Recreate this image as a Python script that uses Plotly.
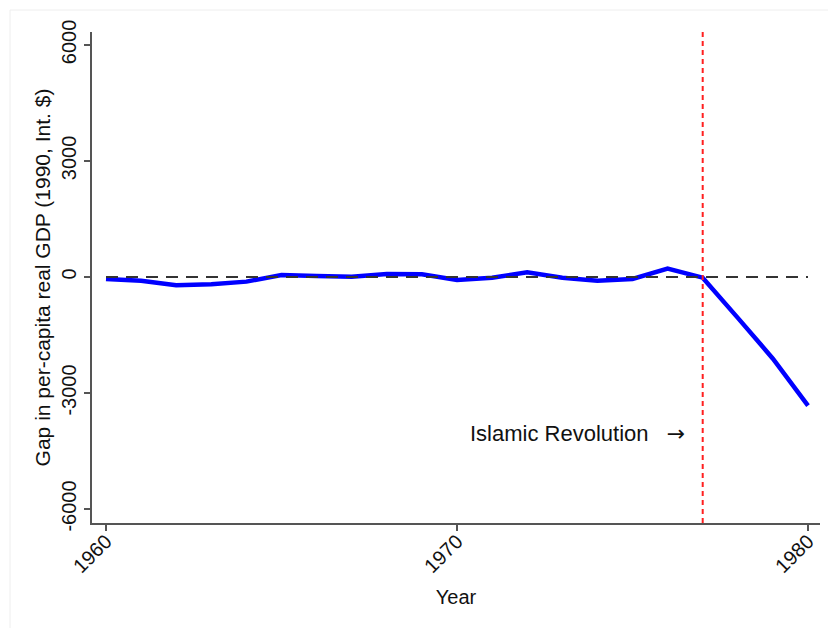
import plotly.graph_objects as go

# Per-capita GDP gap (actual minus synthetic), 1990 international dollars
years = list(range(1960, 1981))
gap = [-52, -100, -216, -190, -120, 52, 26, 8, 78, 70,
       -78, -18, 122, -18, -95, -52, 216, -18, -1057, -2112, -3324]

zero_x = [1960, 1980]
zero_y = [0, 0]

event_year = 1977
event_label = ("Islamic Revolution&nbsp;&nbsp;&nbsp;"
               "<span style='font-family:DejaVu Sans'>\u2192</span>")

y_ticks = [-6000, -3000, 0, 3000, 6000]
x_ticks = [1960, 1970, 1980]

font_family = "Liberation Sans, Arial, sans-serif"
axis_gray = "#555555"
text_color = "#111111"

fig = go.Figure()

fig.add_trace(go.Scatter(
    x=years, y=gap, mode="lines",
    line=dict(color="#0000ff", width=4.5),
    showlegend=False, hoverinfo="skip",
))

fig.add_trace(go.Scatter(
    x=zero_x, y=zero_y, mode="lines",
    line=dict(color="#333333", width=2, dash="12px,8px"),
    showlegend=False, hoverinfo="skip",
))

# Vertical marker at the revolution year
fig.add_shape(
    type="line", xref="x", yref="paper",
    x0=event_year, x1=event_year, y0=0, y1=1,
    line=dict(color="#ff2020", width=2, dash="5px,4px"),
)

# Faint outer frame
fig.add_shape(
    type="rect", xref="paper", yref="paper",
    x0=-0.1126, x1=1.05, y0=-0.3, y1=1.0448,
    line=dict(color="#eeeeee", width=1),
    layer="below",
)

fig.add_annotation(
    x=1976.55, y=-4060, xref="x", yref="y",
    text=event_label, showarrow=False,
    xanchor="right", yanchor="middle",
    font=dict(family=font_family, size=22, color=text_color),
)

fig.update_layout(
    width=828, height=628,
    margin=dict(l=92, r=8, t=32, b=105),
    paper_bgcolor="white", plot_bgcolor="white",
    font=dict(family=font_family, color=text_color),
    xaxis=dict(
        range=[1959.601, 1980.342],
        tickmode="array", tickvals=x_ticks,
        ticktext=[str(v) for v in x_ticks],
        tickangle=-45, ticks="outside", ticklen=6, tickwidth=1.5,
        tickcolor=axis_gray, showline=True, linecolor=axis_gray, linewidth=1.5,
        showgrid=False, zeroline=False, ticklabelstandoff=-9,
        tickfont=dict(size=20, family=font_family, color=text_color),
        title=dict(text="Year", font=dict(size=20, family=font_family, color=text_color), standoff=14),
    ),
    yaxis=dict(
        range=[-6362, 6336],
        tickmode="array", tickvals=y_ticks,
        ticktext=[str(v) for v in y_ticks],
        tickangle=-90, ticks="outside", ticklen=6, tickwidth=1.5,
        tickcolor=axis_gray, showline=True, linecolor=axis_gray, linewidth=1.5,
        showgrid=False, zeroline=False,
        tickfont=dict(size=20, family=font_family, color=text_color),
        title=dict(text="Gap in per-capita real GDP (1990, Int. $)",
                   font=dict(size=21, family=font_family, color=text_color), standoff=2),
    ),
)

fig.write_html("out.html")
